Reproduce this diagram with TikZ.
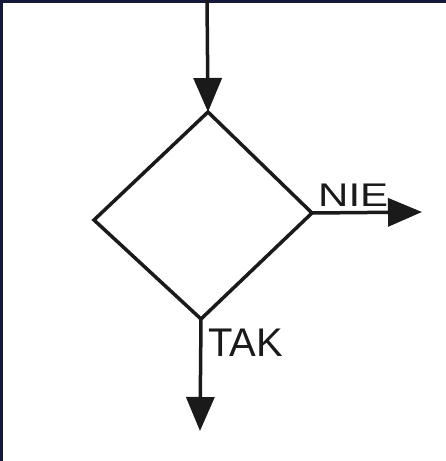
\documentclass[tikz,border=0pt]{standalone}
\usepackage{fontspec}
\setmainfont{Liberation Sans}
\usetikzlibrary{arrows.meta}
\definecolor{frame}{HTML}{14193A}
\definecolor{ink}{HTML}{1A1A1A}
\tikzset{
  flow/.style={draw=ink, line width=3.5pt},
  arr/.style={flow, -{Triangle[length=34pt,width=28pt]}},
  lbl/.style={inner sep=0pt, text=ink, font=\fontsize{40}{40}\selectfont}
}
\begin{document}
\begin{tikzpicture}[x=1pt,y=-1pt]
  % page and frame
  \useasboundingbox (0,0) rectangle (446,461);
  \fill[white] (0,0) rectangle (446,461);
  \fill[frame] (0,0) rectangle (446,2.5);
  \fill[frame] (0,0) rectangle (3,461);
  % decision diamond corners
  \coordinate (dt) at (208,112);
  \coordinate (dr) at (312,213);
  \coordinate (db) at (201,319);
  \coordinate (dl) at (94,220);
  \draw[flow] (dt) -- (dr) -- (db) -- (dl) -- cycle;
  % connector ends
  \coordinate (entry) at (207,-2);
  \coordinate (no) at (422,212);
  \coordinate (yes) at (200,431);
  \draw[arr] (entry) -- (dt);
  \draw[arr] (dr) -- (no);
  \draw[arr] (db) -- (yes);
  % branch labels
  \node[lbl, anchor=base west, font=\fontsize{42}{42}\selectfont, yscale=0.78] (nie) at (318,206) {NIE};
  \node[lbl, anchor=base west] (tak) at (208,356) {TAK};
\end{tikzpicture}
\end{document}
